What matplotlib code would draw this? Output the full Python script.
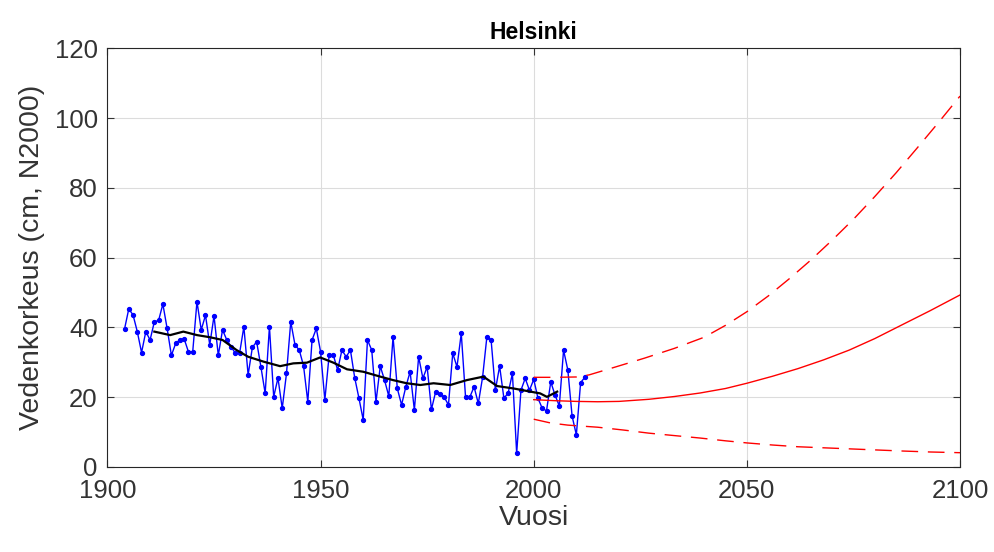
import matplotlib
matplotlib.use("Agg")
import matplotlib.pyplot as plt

# Annual mean sea level, Helsinki (cm, N2000)
years = list(range(1904, 2013))
level = [
    39.5, 45.3, 43.6, 38.8, 32.8, 38.8, 36.4, 41.6, 42.0, 46.7,   # 1904-1913
    39.7, 32.0, 35.4, 36.5, 36.7, 33.0, 33.0, 47.4, 39.3, 43.5,   # 1914-1923
    35.0, 43.3, 32.0, 39.3, 36.4, 34.5, 32.6, 32.6, 40.2, 26.4,   # 1924-1933
    34.3, 35.9, 28.7, 21.1, 40.2, 20.1, 25.5, 16.8, 26.8, 41.6,   # 1934-1943
    35.0, 33.5, 29.0, 18.7, 36.4, 39.7, 33.0, 19.2, 32.0, 32.0,   # 1944-1953
    27.8, 33.5, 31.6, 33.5, 25.6, 19.7, 13.5, 36.4, 33.5, 18.7,   # 1954-1963
    28.9, 24.9, 20.3, 37.3, 22.5, 17.8, 23.0, 27.3, 16.3, 31.6,   # 1964-1973
    25.4, 28.7, 16.5, 21.6, 20.9, 20.0, 17.8, 32.6, 28.7, 38.3,   # 1974-1983
    20.1, 20.0, 23.0, 18.2, 25.7, 37.2, 36.4, 22.0, 28.9, 19.7,   # 1984-1993
    21.2, 26.8, 3.9, 22.0, 25.4, 22.0, 25.1, 19.7, 16.8, 16.1,    # 1994-2003
    24.4, 20.6, 17.5, 33.5, 27.8, 14.6, 9.2, 24.2, 25.7,          # 2004-2012
]

# Smoothed level (black line)
smooth_years = [1911, 1914.7, 1917.8, 1921, 1924, 1927, 1930.3, 1933, 1936.6,
                1940.5, 1943.6, 1946.8, 1949.9, 1953, 1956.2, 1960, 1964,
                1967, 1970.2, 1973.4, 1976.5, 1980.4, 1984.3, 1988.2, 1991.4,
                1995.3, 1999.2, 2001.5, 2003.1, 2005.5]
smooth_level = [38.8, 37.8, 38.8, 37.8, 37.2, 36.4, 33.5, 31.6, 30.2,
                28.9, 29.7, 29.9, 31.4, 29.9, 28.0, 27.3, 25.9,
                24.9, 24.0, 23.5, 24.0, 23.5, 24.9, 25.9, 23.2,
                22.5, 21.6, 21.1, 20.1, 21.6]

# Projections (red): mean scenario and upper / lower bounds
proj_years = [2000, 2005, 2010, 2015, 2020, 2027, 2033, 2039, 2045, 2050,
              2056, 2062, 2068, 2074, 2080, 2086, 2093, 2100]
proj_mean = [19.3, 19.0, 18.8, 18.7, 18.8, 19.4, 20.2, 21.2, 22.5, 24.0,
             26.0, 28.2, 30.7, 33.5, 36.8, 40.5, 44.8, 49.3]

high_years = [2000, 2005, 2010, 2013, 2019, 2026, 2033, 2040, 2045, 2050,
              2055, 2060, 2065, 2070, 2075, 2080, 2085, 2090, 2095, 2100]
high_level = [25.7, 25.7, 25.8, 26.4, 28.6, 31.2, 34.0, 37.2, 40.6, 44.5,
              49.0, 54.0, 59.3, 65.0, 71.0, 77.5, 84.3, 91.5, 98.8, 106.3]

low_years = [2000, 2004, 2008, 2015, 2021, 2027, 2033, 2039, 2045, 2050,
             2056, 2062, 2070, 2078, 2086, 2093, 2100]
low_level = [13.7, 12.6, 12.0, 11.4, 10.6, 9.7, 9.0, 8.3, 7.5, 6.9,
             6.3, 5.8, 5.4, 5.0, 4.6, 4.3, 4.1]

plt.rcParams['font.family'] = ['Liberation Sans', 'DejaVu Sans']

fig = plt.figure(figsize=(9.94, 5.52), dpi=100)
ax = fig.add_axes([0.1081, 0.154, 0.8577, 0.7585])

ax.plot(years, level, color='blue', lw=1, marker='o', markersize=2.8)
ax.plot(smooth_years, smooth_level, color='black', lw=1.6)
ax.plot(proj_years, proj_mean, color='red', lw=1)
ax.plot(high_years, high_level, color='red', lw=1, dashes=(12, 7))
ax.plot(low_years, low_level, color='red', lw=1, dashes=(12, 7))

ax.set_xlim(1900, 2100)
ax.set_ylim(0, 120)
ax.set_xticks([1900, 1950, 2000, 2050, 2100])
ax.set_yticks(range(0, 121, 20))
ax.grid(True, color='#dcdcdc', lw=0.8)
ax.set_axisbelow(True)

ax.tick_params(direction='in', top=True, right=True, length=5, width=0.8,
               labelsize=18.5, colors='#333333')
ax.tick_params(axis='x', pad=9)
ax.tick_params(axis='y', pad=7)
for s in ax.spines.values():
    s.set_color('#262626')
    s.set_linewidth(0.8)

ax.set_title('Helsinki', fontsize=16.5, fontweight='bold', pad=7)
ax.set_xlabel('Vuosi', fontsize=20.5, color='#333333', labelpad=1)
ax.set_ylabel('Vedenkorkeus (cm, N2000)', fontsize=20.5, color='#333333', labelpad=7)

fig.savefig('out.png', dpi=100)
